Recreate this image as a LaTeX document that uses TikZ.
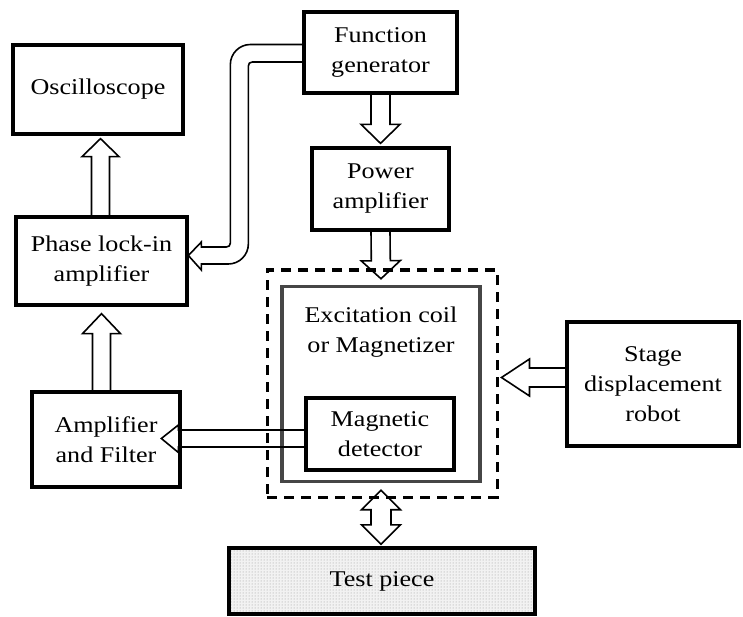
\documentclass[tikz,border=0pt]{standalone}
\usepackage{fontspec}
\setmainfont{Liberation Serif}[FakeStretch=1.16]
\usetikzlibrary{calc,patterns}
\definecolor{coilgray}{RGB}{70,70,70}

% hollow block arrow: start, tip, head length, shaft half width, head half width
\newcommand{\hollowarrow}[5]{%
  \coordinate (ha) at (#1);
  \coordinate (ht) at (#2);
  \coordinate (hb) at ($(ht)!#3!(ha)$);
  \draw[arr] ($(ha)!#4!90:(ht)$) -- ($(hb)!#4!-90:(ha)$) -- ($(hb)!#5!-90:(ha)$) -- (ht)
    -- ($(hb)!#5!90:(ha)$) -- ($(hb)!#4!90:(ha)$) -- ($(ha)!#4!-90:(ht)$);}
% hollow arrow with two heads
\newcommand{\twowayarrow}[5]{%
  \coordinate (ta) at (#1);
  \coordinate (tb) at (#2);
  \coordinate (hA) at ($(ta)!#3!(tb)$);
  \coordinate (hB) at ($(tb)!#3!(ta)$);
  \draw[arr] (ta) -- ($(hA)!#5!90:(tb)$) -- ($(hA)!#4!90:(tb)$) -- ($(hB)!#4!-90:(ta)$)
    -- ($(hB)!#5!-90:(ta)$) -- (tb) -- ($(hB)!#5!90:(ta)$) -- ($(hB)!#4!90:(ta)$)
    -- ($(hA)!#4!-90:(tb)$) -- ($(hA)!#5!-90:(tb)$) -- cycle;}

\begin{document}
\begin{tikzpicture}[x=1pt,y=-1pt,font=\fontsize{22.5}{30}\selectfont,
  box/.style={draw,line width=3.3pt,align=center,inner sep=0pt},
  arr/.style={line width=1.6pt,line join=miter}]
  \useasboundingbox (0,0) rectangle (743,617);

  % boxes
  \node[box,minimum width=153,minimum height=81] (fgen) at (380.5,52.5) {Function\\generator};
  \node[box,minimum width=170,minimum height=89] (osc) at (98,89.5) {Oscilloscope};
  \node[box,minimum width=137,minimum height=82] (pamp) at (380.5,189) {Power\\amplifier};
  \node[box,minimum width=171,minimum height=88] (plock) at (101.5,261) {Phase lock-in\\amplifier};
  \node[box,minimum width=148,minimum height=95] (ampf) at (106,439.5) {Amplifier\\and Filter};
  \node[box,minimum width=172,minimum height=124] (stage) at (653,384) {Stage\\displacement\\robot};

  \node[draw,line width=3pt,dash pattern=on 10pt off 7pt,minimum width=230,minimum height=227] (frame) at (382,383.5) {};
  \node[draw=coilgray,line width=3.5pt,minimum width=198,minimum height=195] (coil) at (381,384) {};
  \node[align=center] (coiltext) at (381,332) {Excitation coil\\or Magnetizer};
  \node[box,minimum width=148,minimum height=72] (det) at (380,434) {Magnetic\\detector};

  \node[draw,line width=3.3pt,pattern=dots,pattern color=gray!85,preaction={fill=gray!10},
    minimum width=306,minimum height=66] (piece) at (382,581) {};
  \node (piecetext) at (piece.center) {Test piece};

  % arrows
  \hollowarrow{fgen.south}{$(pamp.north)+(0,-3)$}{19pt}{9.5pt}{19.5pt}
  \hollowarrow{pamp.south}{$(coil.north)+(0,-6)$}{18pt}{9.5pt}{19.5pt}
  \hollowarrow{$(plock.north)+(-1,0)$}{$(plock.north|-osc.south)+(-1,3)$}{18pt}{9pt}{18.5pt}
  \hollowarrow{plock.south|-ampf.north}{$(plock.south)+(0,7)$}{20pt}{9pt}{19pt}
  \coordinate (sa) at ($(stage.west)+(0,-6.5)$);
  \hollowarrow{sa}{$(frame.east|-sa)+(3,0)$}{28pt}{9.5pt}{18.5pt}
  \twowayarrow{$(coil.south)+(0,7)$}{$(coil.south|-piece.north)+(0,-2)$}{19.5pt}{10pt}{19.5pt}

  \draw[arr] ($(det.west)+(0,-4)$) -- ++(-126,0) -- ++(0,-5) -- ++(-17,13.5)
    -- ++(17,14) -- ++(0,-5.5) -- ++(126,0);

  \draw[arr] ($(fgen.west)+(0,-8)$) -- ++(-52,0) .. controls +(-11,0) and +(0,-11) .. ++(-20,20)
    -- ++(0,178.5) .. controls +(0,2.5) and +(2.5,0) .. ++(-4,4) -- ++(-25,0)
    -- ++(0,-5) -- ++(-13,13.5) -- ++(13,14.5) -- ++(0,-6)
    -- ++(27,0) .. controls +(11,0) and +(0,11) .. ++(20,-20)
    -- ++(0,-178) .. controls +(0,-2.5) and +(-2.5,0) .. ++(4,-4) -- ++(50,0);
\end{tikzpicture}
\end{document}
